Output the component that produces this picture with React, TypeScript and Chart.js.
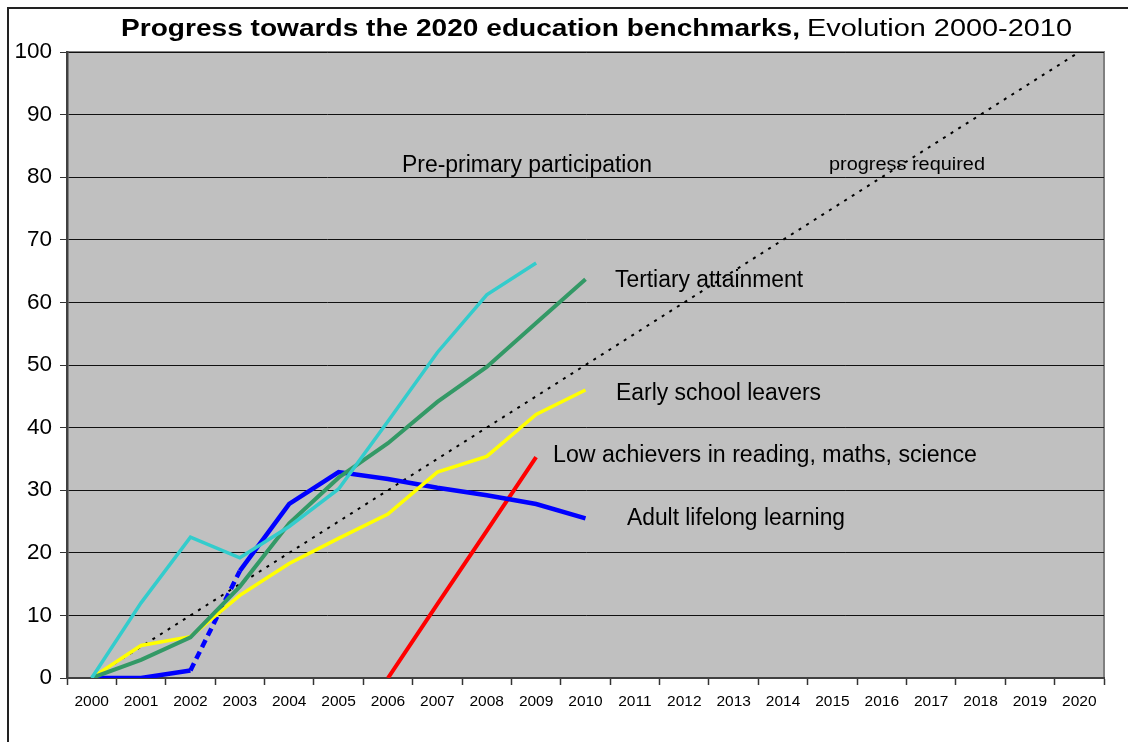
import React, { useEffect, useRef } from "react";
import { Chart, registerables } from "chart.js";

Chart.register(...registerables);

const years = [
  "2000", "2001", "2002", "2003", "2004", "2005", "2006", "2007", "2008", "2009", "2010",
  "2011", "2012", "2013", "2014", "2015", "2016", "2017", "2018", "2019", "2020",
];

const prePrimary = [0, 12, 22.5, 19.2, 24.2, 30.2, 41, 52, 61.2, 66.3];
const tertiary = [0, 2.9, 6.5, 14.6, 24.7, 32, 37.5, 44.1, 49.7, 56.7, 63.7];
const earlyLeavers = [0, 5.2, 6.6, 13.2, 18.3, 22.3, 26.2, 32.9, 35.4, 42.1, 46];
const adultLearning = [0, 0, 1.2, 17.1, 27.8, 32.9, 31.8, 30.4, 29.2, 27.8, 25.5];
const lowAchievers = [null, null, null, null, null, null, 0, 11.8, 23.5, 35.3];
const progressRequired = [0, 5, 10, 15, 20, 25, 30, 35, 40, 45, 50, 55, 60, 65, 70, 75, 80, 85, 90, 95, 100];

const yTicks = [0, 10, 20, 30, 40, 50, 60, 70, 80, 90, 100];

const FONT = '"Liberation Sans", Arial, sans-serif';

type Label = { text: string; x: number; y: number; size: number; width: number; bold?: boolean };

const annotations: Label[] = [
  { text: "Pre-primary participation", x: 402, y: 172, size: 23, width: 250 },
  { text: "progress required", x: 829, y: 170, size: 18, width: 156 },
  { text: "Tertiary attainment", x: 615, y: 287, size: 23, width: 188 },
  { text: "Early school leavers", x: 616, y: 400, size: 23, width: 205 },
  { text: "Low achievers in reading, maths, science", x: 553, y: 462, size: 23, width: 424 },
  { text: "Adult lifelong learning", x: 627, y: 525, size: 23, width: 218 },
];

const titleParts: Label[] = [
  { text: "Progress towards the 2020 education benchmarks,", x: 121, y: 36, size: 23, width: 679, bold: true },
  { text: "Evolution 2000-2010", x: 807, y: 36, size: 23, width: 265 },
];

function drawText(ctx: CanvasRenderingContext2D, l: Label) {
  ctx.save();
  ctx.font = `${l.bold ? "bold " : ""}${l.size}px ${FONT}`;
  ctx.fillStyle = "#000";
  ctx.textBaseline = "alphabetic";
  ctx.textAlign = "left";
  const w = ctx.measureText(l.text).width;
  ctx.translate(l.x, l.y);
  ctx.scale(l.width / w, 1);
  ctx.fillText(l.text, 0, 0);
  ctx.restore();
}

const decor = {
  id: "decor",
  beforeDraw(chart: any) {
    const { ctx, chartArea: a, width, height } = chart;
    ctx.save();
    ctx.fillStyle = "#fff";
    ctx.fillRect(0, 0, width, height);
    ctx.strokeStyle = "#222";
    ctx.lineWidth = 2;
    ctx.beginPath();
    ctx.moveTo(8, height + 5);
    ctx.lineTo(8, 8);
    ctx.lineTo(width + 5, 8);
    ctx.stroke();
    ctx.fillStyle = "#C0C0C0";
    ctx.fillRect(a.left, a.top, a.right - a.left, a.bottom - a.top);
    ctx.strokeStyle = "#808080";
    ctx.lineWidth = 2;
    ctx.beginPath();
    ctx.moveTo(a.left, a.top);
    ctx.lineTo(a.right, a.top);
    ctx.lineTo(a.right, a.bottom);
    ctx.stroke();
    ctx.restore();
  },
  afterDatasetsDraw(chart: any) {
    const { ctx } = chart;
    annotations.forEach((l) => drawText(ctx, l));
  },
  afterDraw(chart: any) {
    const { ctx } = chart;
    titleParts.forEach((l) => drawText(ctx, l));
  },
};

export default function App() {
  const ref = useRef<HTMLCanvasElement>(null);
  useEffect(() => {
    document.body.style.margin = "0";
    document.body.style.overflow = "hidden";
    const canvas = ref.current!;
    const chart = new Chart(canvas, {
      type: "line",
      data: {
        labels: years,
        datasets: [
          { label: "Pre-primary participation", data: prePrimary, borderColor: "#33CCCC", borderWidth: 3.5 },
          { label: "Tertiary attainment", data: tertiary, borderColor: "#339966", borderWidth: 4 },
          { label: "Early school leavers", data: earlyLeavers, borderColor: "#FFFF00", borderWidth: 3.5 },
          {
            label: "Adult lifelong learning",
            data: adultLearning,
            borderColor: "#0000FF",
            borderWidth: 4.5,
            segment: {
              borderDash: (c: any) => (c.p0DataIndex === 2 ? [8, 5] : undefined),
            },
          },
          { label: "Low achievers", data: lowAchievers as any, borderColor: "#FF0000", borderWidth: 4 },
          {
            label: "progress required",
            data: progressRequired,
            borderColor: "#000",
            borderWidth: 2,
            borderDash: [3, 6],
          },
        ],
      },
      options: {
        animation: false,
        responsive: false,
        devicePixelRatio: 1,
        layout: { padding: { top: 52, right: 24, left: 0, bottom: 0 } },
        elements: { point: { radius: 0 }, line: { tension: 0, fill: false } },
        plugins: { legend: { display: false }, tooltip: { enabled: false }, title: { display: false } },
        scales: {
          x: {
            type: "category",
            offset: true,
            grid: {
              offset: true,
              drawOnChartArea: false,
              drawTicks: true,
              tickLength: 7,
              tickColor: "#333",
              tickWidth: 1.5,
            },
            border: { display: true, color: "#404040", width: 2 },
            ticks: {
              autoSkip: false,
              maxRotation: 0,
              minRotation: 0,
              padding: 7,
              color: "#000",
              font: { family: FONT, size: 15.5 },
            },
            afterFit(scale: any) {
              scale.height = 64;
            },
          },
          y: {
            min: 0,
            max: 100,
            afterBuildTicks(scale: any) {
              scale.ticks = yTicks.map((v) => ({ value: v }));
            },
            grid: {
              color: "#111",
              lineWidth: 1,
              tickLength: 7,
              tickColor: "#333",
            },
            border: { display: true, color: "#404040", width: 2.5 },
            ticks: {
              padding: 8,
              color: "#000",
              font: { family: FONT, size: 22.5 },
            },
            afterFit(scale: any) {
              scale.width = 67;
            },
          },
        },
      },
      plugins: [decor],
    });
    return () => chart.destroy();
  }, []);
  return <canvas ref={ref} width={1128} height={742} style={{ display: "block", width: 1128, height: 742 }} />;
}
